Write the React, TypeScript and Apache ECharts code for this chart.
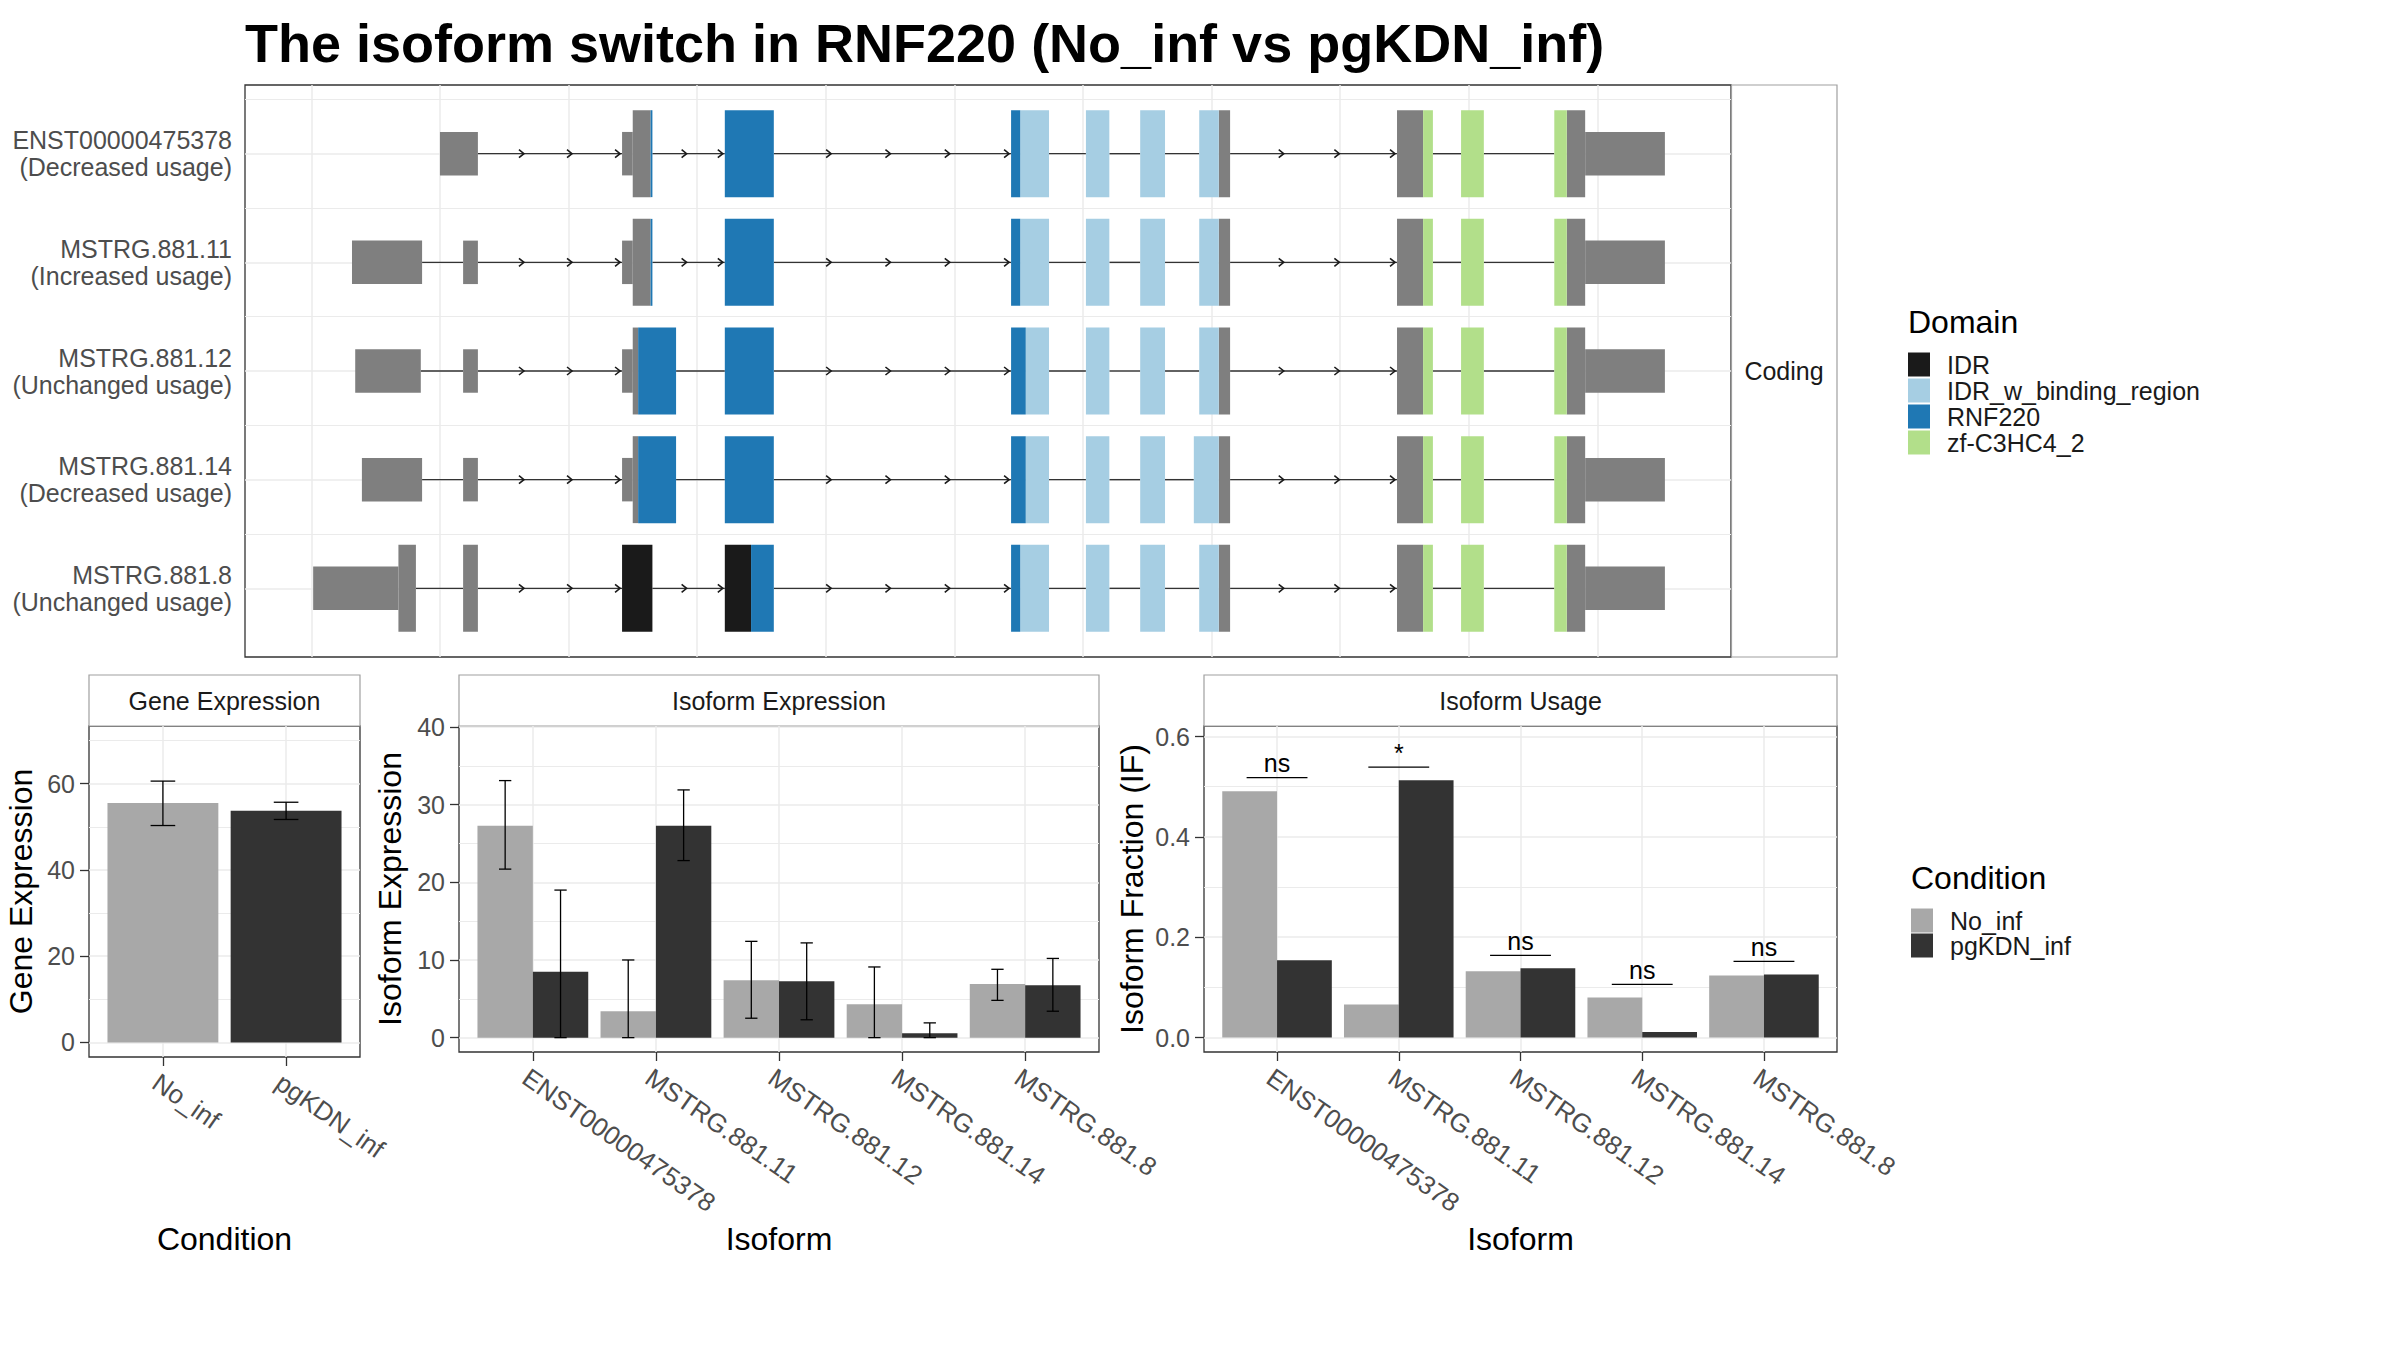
import React, { useEffect, useRef } from 'react';
import * as echarts from 'echarts';

const FONT = '"Liberation Sans", Arial, Helvetica, sans-serif';

const chartTitle = 'The isoform switch in RNF220 (No_inf vs pgKDN_inf)';

// ---------- Top panel: isoform structures ----------
const isoformIds = ['ENST00000475378', 'MSTRG.881.11', 'MSTRG.881.12', 'MSTRG.881.14', 'MSTRG.881.8'];
const isoformUsage = ['Decreased usage', 'Increased usage', 'Unchanged usage', 'Decreased usage', 'Unchanged usage'];
const stripLabel = 'Coding';

const domainNames = ['IDR', 'IDR_w_binding_region', 'RNF220', 'zf-C3HC4_2'];
const domainColors = ['#1A1A1A', '#A6CEE3', '#1F78B4', '#B2DF8A'];
const plainExonColor = '#7F7F7F';

// [start, end, coding (1) / UTR (0), domain index (-1 = none)] in shortened plot coordinates
const exonsENST00000475378 = [
  [1.0, 1.295, 0, -1], [2.416, 2.499, 0, -1], [2.499, 2.638, 1, -1], [2.638, 2.652, 1, 2],
  [3.215, 3.596, 1, 2], [5.441, 5.512, 1, 2], [5.512, 5.736, 1, 1], [6.023, 6.205, 1, 1],
  [6.445, 6.638, 1, 1], [6.904, 7.056, 1, 1], [7.056, 7.144, 1, -1], [8.442, 8.645, 1, -1],
  [8.645, 8.721, 1, 3], [8.94, 9.117, 1, 3], [9.665, 9.762, 1, 3], [9.762, 9.905, 1, -1],
  [9.905, 10.525, 0, -1],
];
const exonsMSTRG881_11 = [
  [0.316, 0.861, 0, -1], [1.18, 1.295, 0, -1], [2.416, 2.499, 0, -1], [2.499, 2.638, 1, -1],
  [2.638, 2.652, 1, 2], [3.215, 3.596, 1, 2], [5.441, 5.512, 1, 2], [5.512, 5.736, 1, 1],
  [6.023, 6.205, 1, 1], [6.445, 6.638, 1, 1], [6.904, 7.056, 1, 1], [7.056, 7.144, 1, -1],
  [8.442, 8.645, 1, -1], [8.645, 8.721, 1, 3], [8.94, 9.117, 1, 3], [9.665, 9.762, 1, 3],
  [9.762, 9.905, 1, -1], [9.905, 10.525, 0, -1],
];
const exonsMSTRG881_12 = [
  [0.341, 0.851, 0, -1], [1.18, 1.295, 0, -1], [2.416, 2.499, 0, -1], [2.499, 2.541, 1, -1],
  [2.541, 2.836, 1, 2], [3.215, 3.596, 1, 2], [5.441, 5.555, 1, 2], [5.555, 5.736, 1, 1],
  [6.023, 6.205, 1, 1], [6.445, 6.638, 1, 1], [6.904, 7.056, 1, 1], [7.056, 7.144, 1, -1],
  [8.442, 8.645, 1, -1], [8.645, 8.721, 1, 3], [8.94, 9.117, 1, 3], [9.665, 9.762, 1, 3],
  [9.762, 9.905, 1, -1], [9.905, 10.525, 0, -1],
];
const exonsMSTRG881_14 = [
  [0.393, 0.861, 0, -1], [1.18, 1.295, 0, -1], [2.416, 2.499, 0, -1], [2.499, 2.541, 1, -1],
  [2.541, 2.836, 1, 2], [3.215, 3.596, 1, 2], [5.441, 5.555, 1, 2], [5.555, 5.736, 1, 1],
  [6.023, 6.205, 1, 1], [6.445, 6.638, 1, 1], [6.862, 7.056, 1, 1], [7.056, 7.144, 1, -1],
  [8.442, 8.645, 1, -1], [8.645, 8.721, 1, 3], [8.94, 9.117, 1, 3], [9.665, 9.762, 1, 3],
  [9.762, 9.905, 1, -1], [9.905, 10.525, 0, -1],
];
const exonsMSTRG881_8 = [
  [0.014, 0.677, 0, -1], [0.677, 0.813, 1, -1], [1.18, 1.295, 1, -1], [2.416, 2.652, 1, 0],
  [3.215, 3.419, 1, 0], [3.419, 3.596, 1, 2], [5.441, 5.512, 1, 2], [5.512, 5.736, 1, 1],
  [6.023, 6.205, 1, 1], [6.445, 6.638, 1, 1], [6.904, 7.056, 1, 1], [7.056, 7.144, 1, -1],
  [8.442, 8.645, 1, -1], [8.645, 8.721, 1, 3], [8.94, 9.117, 1, 3], [9.665, 9.762, 1, 3],
  [9.762, 9.905, 1, -1], [9.905, 10.525, 0, -1],
];
const isoformExons = [exonsENST00000475378, exonsMSTRG881_11, exonsMSTRG881_12, exonsMSTRG881_14, exonsMSTRG881_8];

// introns carrying direction arrows: [start, end, number of arrows]
const arrowedIntrons = [[1.295, 2.416, 3], [2.652, 3.215, 2], [3.596, 5.441, 4], [7.144, 8.442, 3]];
const structureBreaks = [0, 1, 2, 3, 4, 5, 6, 7, 8, 9, 10];
const rowBreaks = [1, 2, 3, 4, 5];
const rowMinorBreaks = [0.5, 1.5, 2.5, 3.5, 4.5];

// ---------- Bottom panels ----------
const conditions = ['No_inf', 'pgKDN_inf'];
const conditionColors = ['#A8A8A8', '#333333'];

const geneMean = [55.5, 53.7];
const geneLow = [50.3, 51.7];
const geneHigh = [60.6, 55.7];
const geneTicks = [0, 20, 40, 60];
const geneMinor = [10, 30, 50, 70];

const isoExpNoInf = [27.3, 3.4, 7.4, 4.3, 6.9];
const isoExpNoInfLow = [21.7, 0, 2.5, 0, 4.8];
const isoExpNoInfHigh = [33.1, 10.0, 12.4, 9.1, 8.8];
const isoExpPg = [8.5, 27.3, 7.25, 0.55, 6.75];
const isoExpPgLow = [0, 22.8, 2.3, 0, 3.4];
const isoExpPgHigh = [19.0, 31.9, 12.2, 1.9, 10.2];
const isoExpTicks = [0, 10, 20, 30, 40];
const isoExpMinor = [5, 15, 25, 35];

const ifNoInf = [0.491, 0.066, 0.132, 0.08, 0.124];
const ifPg = [0.154, 0.513, 0.138, 0.011, 0.126];
const ifTicks = [0, 0.2, 0.4, 0.6];
const ifMinor = [0.1, 0.3, 0.5];
const sigLabels = ['ns', '*', 'ns', 'ns', 'ns'];
const sigLineY = [0.518, 0.539, 0.164, 0.106, 0.152];

const catIdx = isoformIds.map((_, i) => i + 1);

// ---------- helpers ----------
const axisText = { color: '#4D4D4D', fontSize: 25, fontFamily: FONT };
const nameText = { color: '#000000', fontSize: 32, fontFamily: FONT };
const majorGrid = { show: true, lineStyle: { color: '#EBEBEB', width: 1.5 } };
const minorGrid = { show: true, lineStyle: { color: '#EBEBEB', width: 1 } };
const tickStyle = { color: '#333333', width: 1.3 };

function exonRender(color: string) {
  return (params: any, api: any) => {
    const row = api.value(0);
    const s = api.value(1);
    const e = api.value(2);
    const h = api.value(3) ? 0.4 : 0.2;
    const a = api.coord([s, row - h]);
    const b = api.coord([e, row + h]);
    return {
      type: 'rect',
      shape: { x: a[0], y: Math.min(a[1], b[1]), width: b[0] - a[0], height: Math.abs(b[1] - a[1]) },
      style: { fill: color },
    };
  };
}

const intronRender = (params: any, api: any) => {
  const row = api.value(0);
  const a = api.coord([api.value(1), row]);
  const b = api.coord([api.value(2), row]);
  const n = api.value(3);
  const children: any[] = [
    { type: 'line', shape: { x1: a[0], y1: a[1], x2: b[0], y2: b[1] }, style: { stroke: '#333333', lineWidth: 1.4 } },
  ];
  for (let k = 1; k <= n; k++) {
    const x = a[0] + ((b[0] - a[0]) * k) / n - 2;
    children.push({
      type: 'polyline',
      shape: { points: [[x - 5, a[1] - 4], [x, a[1]], [x - 5, a[1] + 4]] },
      style: { stroke: '#1A1A1A', lineWidth: 1.6, fill: 'none' },
    });
  }
  return { type: 'group', children };
};

function barRender(offset: number, width: number, capHalf: number, color: string) {
  return (params: any, api: any) => {
    const x = api.value(0) + offset;
    const v = api.value(1);
    const p0 = api.coord([x - width / 2, 0]);
    const p1 = api.coord([x + width / 2, v]);
    const children: any[] = [
      { type: 'rect', shape: { x: p0[0], y: p1[1], width: p1[0] - p0[0], height: p0[1] - p1[1] }, style: { fill: color } },
    ];
    const lo = api.value(2);
    const hi = api.value(3);
    if (isFinite(lo) && isFinite(hi)) {
      const eLo = api.coord([x, lo]);
      const eHi = api.coord([x, hi]);
      const cl = api.coord([x - capHalf, hi])[0];
      const cr = api.coord([x + capHalf, hi])[0];
      const es = { stroke: '#000000', lineWidth: 1.3 };
      children.push(
        { type: 'line', shape: { x1: eLo[0], y1: eLo[1], x2: eHi[0], y2: eHi[1] }, style: es },
        { type: 'line', shape: { x1: cl, y1: eHi[1], x2: cr, y2: eHi[1] }, style: es },
        { type: 'line', shape: { x1: cl, y1: eLo[1], x2: cr, y2: eLo[1] }, style: es },
      );
    }
    return { type: 'group', children };
  };
}

const sigRender = (params: any, api: any) => {
  const x = api.value(0);
  const y = api.value(1);
  const a = api.coord([x - 0.25, y]);
  const b = api.coord([x + 0.25, y]);
  return {
    type: 'group',
    children: [
      { type: 'line', shape: { x1: a[0], y1: a[1], x2: b[0], y2: b[1] }, style: { stroke: '#000000', lineWidth: 1.2 } },
      {
        type: 'text',
        x: (a[0] + b[0]) / 2,
        y: a[1] - 2,
        style: { text: sigLabels[params.dataIndex], align: 'center', verticalAlign: 'bottom', fontSize: 25, fontFamily: FONT, fill: '#000000' },
      },
    ],
  };
};

function gridBox(left: number, top: number, width: number, height: number) {
  return {
    left, top, width, height, show: true, borderColor: '#333333', borderWidth: 1.3,
    backgroundColor: 'transparent', containLabel: false, outerBoundsMode: 'none',
  };
}

function catXAxis(gridIndex: number, n: number, labels: string[], name: string, nameGap: number) {
  const vals = labels.map((_, i) => i + 1);
  return {
    type: 'value', gridIndex, min: 0.4, max: n + 0.6,
    axisLine: { show: false, onZero: false },
    axisTick: { show: true, customValues: vals, length: 9, lineStyle: tickStyle },
    axisLabel: {
      customValues: vals, formatter: (v: number) => labels[Math.round(v) - 1] ?? '',
      rotate: -35, margin: 12, verticalAlign: 'top', ...axisText, fontSize: 26,
    },
    splitLine: majorGrid,
    name, nameLocation: 'middle', nameGap, nameTextStyle: nameText, nameMoveOverlap: false,
  };
}

function mainYAxis(gridIndex: number, min: number, max: number, ticks: number[], fmt: (v: number) => string, name: string, nameGap: number) {
  return {
    type: 'value', gridIndex, min, max,
    axisLine: { show: false, onZero: false },
    axisTick: { show: true, customValues: ticks, length: 9, lineStyle: tickStyle },
    axisLabel: { customValues: ticks, formatter: fmt, margin: 14, ...axisText },
    splitLine: majorGrid,
    name, nameLocation: 'middle', nameGap, nameRotate: 90, nameTextStyle: nameText, nameMoveOverlap: false,
  };
}

function minorYAxis(gridIndex: number, min: number, max: number, vals: number[], inverse = false) {
  return {
    type: 'value', gridIndex, min, max, inverse, position: 'right',
    axisLine: { show: false, onZero: false },
    axisTick: { show: false, customValues: vals },
    axisLabel: { show: false },
    splitLine: minorGrid,
  };
}

function buildOption() {
  // exon series per domain (plus plain exons)
  const exonSeries: any[] = [];
  const domainList = [-1, 0, 1, 2, 3];
  domainList.forEach((d) => {
    const data: number[][] = [];
    isoformExons.forEach((exs, r) => {
      exs.forEach((ex) => {
        if (ex[3] === d) data.push([r + 1, ex[0], ex[1], ex[2]]);
      });
    });
    const color = d < 0 ? plainExonColor : domainColors[d];
    exonSeries.push({
      type: 'custom', name: d < 0 ? 'no domain' : domainNames[d],
      xAxisIndex: 0, yAxisIndex: 0, z: 4, silent: true,
      itemStyle: { color }, encode: { x: [1, 2], y: 0 },
      renderItem: exonRender(color), data,
    });
  });

  const intronData: number[][] = [];
  isoformExons.forEach((exs, r) => {
    for (let i = 1; i < exs.length; i++) {
      const s = exs[i - 1][1];
      const e = exs[i][0];
      if (e - s > 1e-6) {
        const match = arrowedIntrons.find((ai) => Math.abs(ai[0] - s) < 0.01 && Math.abs(ai[1] - e) < 0.01);
        intronData.push([r + 1, s, e, match ? match[2] : 0]);
      }
    }
  });

  const series: any[] = [
    {
      type: 'custom', name: 'introns', xAxisIndex: 0, yAxisIndex: 0, z: 3, silent: true,
      encode: { x: [1, 2], y: 0 }, renderItem: intronRender, data: intronData,
    },
    ...exonSeries,
    // Gene expression
    {
      type: 'custom', name: conditions[0], xAxisIndex: 1, yAxisIndex: 2, z: 3, silent: true,
      itemStyle: { color: conditionColors[0] },
      renderItem: barRender(0, 0.9, 0.1, conditionColors[0]),
      data: [[1, geneMean[0], geneLow[0], geneHigh[0]]],
    },
    {
      type: 'custom', name: conditions[1], xAxisIndex: 1, yAxisIndex: 2, z: 3, silent: true,
      itemStyle: { color: conditionColors[1] },
      renderItem: barRender(0, 0.9, 0.1, conditionColors[1]),
      data: [[2, geneMean[1], geneLow[1], geneHigh[1]]],
    },
    // Isoform expression
    {
      type: 'custom', name: conditions[0], xAxisIndex: 2, yAxisIndex: 4, z: 3, silent: true,
      itemStyle: { color: conditionColors[0] },
      renderItem: barRender(-0.225, 0.45, 0.05, conditionColors[0]),
      data: catIdx.map((c, i) => [c, isoExpNoInf[i], isoExpNoInfLow[i], isoExpNoInfHigh[i]]),
    },
    {
      type: 'custom', name: conditions[1], xAxisIndex: 2, yAxisIndex: 4, z: 3, silent: true,
      itemStyle: { color: conditionColors[1] },
      renderItem: barRender(0.225, 0.45, 0.05, conditionColors[1]),
      data: catIdx.map((c, i) => [c, isoExpPg[i], isoExpPgLow[i], isoExpPgHigh[i]]),
    },
    // Isoform usage
    {
      type: 'custom', name: conditions[0], xAxisIndex: 3, yAxisIndex: 6, z: 3, silent: true,
      itemStyle: { color: conditionColors[0] },
      renderItem: barRender(-0.225, 0.45, 0.05, conditionColors[0]),
      data: catIdx.map((c, i) => [c, ifNoInf[i]]),
    },
    {
      type: 'custom', name: conditions[1], xAxisIndex: 3, yAxisIndex: 6, z: 3, silent: true,
      itemStyle: { color: conditionColors[1] },
      renderItem: barRender(0.225, 0.45, 0.05, conditionColors[1]),
      data: catIdx.map((c, i) => [c, ifPg[i]]),
    },
    {
      type: 'custom', name: 'significance', xAxisIndex: 3, yAxisIndex: 6, z: 5, silent: true,
      renderItem: sigRender,
      data: catIdx.map((c, i) => [c, sigLineY[i]]),
    },
  ];

  const stripStyle = { fill: '#FFFFFF', stroke: '#A0A0A0', lineWidth: 1.2 };
  const stripText = (x: number, y: number, text: string) => ({
    type: 'text', x, y, silent: true,
    style: { text, align: 'center', verticalAlign: 'middle', fontSize: 25, fontFamily: FONT, fill: '#1A1A1A' },
  });

  return {
    animation: false,
    backgroundColor: '#FFFFFF',
    textStyle: { fontFamily: FONT },
    grid: [
      gridBox(245, 85, 1486, 572),
      gridBox(89, 726, 271, 331),
      gridBox(459, 726, 640, 326),
      gridBox(1204, 726, 633, 326),
    ],
    xAxis: [
      {
        type: 'value', gridIndex: 0, min: -0.516, max: 11.039,
        axisLine: { show: false, onZero: false },
        axisTick: { show: false, customValues: structureBreaks },
        axisLabel: { show: false },
        splitLine: majorGrid,
      },
      catXAxis(1, 2, conditions, 'Condition', 166),
      catXAxis(2, 5, isoformIds, 'Isoform', 171),
      catXAxis(3, 5, isoformIds, 'Isoform', 171),
    ],
    yAxis: [
      {
        type: 'value', gridIndex: 0, min: 0.368, max: 5.632, inverse: true,
        axisLine: { show: false, onZero: false },
        axisTick: { show: false, customValues: rowBreaks },
        axisLabel: {
          customValues: rowBreaks,
          formatter: (v: number) => {
            const i = Math.round(v) - 1;
            return isoformIds[i] + '\n(' + isoformUsage[i] + ')';
          },
          margin: 13, align: 'right', lineHeight: 27, ...axisText,
        },
        splitLine: majorGrid,
      },
      minorYAxis(0, 0.368, 5.632, rowMinorBreaks, true),
      mainYAxis(1, -3.38, 73.38, geneTicks, (v) => String(Math.round(v)), 'Gene Expression', 52),
      minorYAxis(1, -3.38, 73.38, geneMinor),
      mainYAxis(2, -1.85, 40.13, isoExpTicks, (v) => String(Math.round(v)), 'Isoform Expression', 53),
      minorYAxis(2, -1.85, 40.13, isoExpMinor),
      mainYAxis(3, -0.0287, 0.621, ifTicks, (v) => v.toFixed(1), 'Isoform Fraction (IF)', 56),
      minorYAxis(3, -0.0287, 0.621, ifMinor),
    ],
    legend: [
      {
        data: domainNames, orient: 'vertical', left: 1908, top: 352, padding: 0,
        itemWidth: 22, itemHeight: 24, itemGap: 1, icon: 'rect', selectedMode: false,
        textStyle: { fontSize: 25, color: '#1A1A1A', fontFamily: FONT, padding: [0, 0, 0, 12] },
      },
      {
        data: conditions, orient: 'vertical', left: 1911, top: 908, padding: 0,
        itemWidth: 22, itemHeight: 24, itemGap: 0, icon: 'rect', selectedMode: false,
        textStyle: { fontSize: 25, color: '#1A1A1A', fontFamily: FONT, padding: [0, 0, 0, 12] },
      },
    ],
    series,
    graphic: [
      {
        type: 'text', x: 245, y: 43, silent: true,
        style: { text: chartTitle, fontSize: 54, fontWeight: 'bold', fontFamily: FONT, fill: '#000000', verticalAlign: 'middle' },
      },
      { type: 'rect', silent: true, shape: { x: 1731.5, y: 85, width: 105.5, height: 572 }, style: stripStyle },
      stripText(1784, 371, stripLabel),
      { type: 'rect', silent: true, shape: { x: 89, y: 675, width: 271, height: 51 }, style: stripStyle },
      stripText(224.5, 700.5, 'Gene Expression'),
      { type: 'rect', silent: true, shape: { x: 459, y: 675, width: 640, height: 51 }, style: stripStyle },
      stripText(779, 700.5, 'Isoform Expression'),
      { type: 'rect', silent: true, shape: { x: 1204, y: 675, width: 633, height: 51 }, style: stripStyle },
      stripText(1520.5, 700.5, 'Isoform Usage'),
      {
        type: 'text', x: 1908, y: 322, silent: true,
        style: { text: 'Domain', fontSize: 32, fontFamily: FONT, fill: '#000000', verticalAlign: 'middle' },
      },
      {
        type: 'text', x: 1911, y: 878, silent: true,
        style: { text: 'Condition', fontSize: 32, fontFamily: FONT, fill: '#000000', verticalAlign: 'middle' },
      },
    ],
  };
}

export default function App() {
  const ref = useRef<HTMLDivElement>(null);
  useEffect(() => {
    document.body.style.margin = '0';
    const chart = echarts.init(ref.current as HTMLDivElement, null, { renderer: 'svg' });
    chart.setOption(buildOption() as any);
    return () => chart.dispose();
  }, []);
  return <div ref={ref} style={{ width: 2400, height: 1350, overflow: 'hidden' }} />;
}
